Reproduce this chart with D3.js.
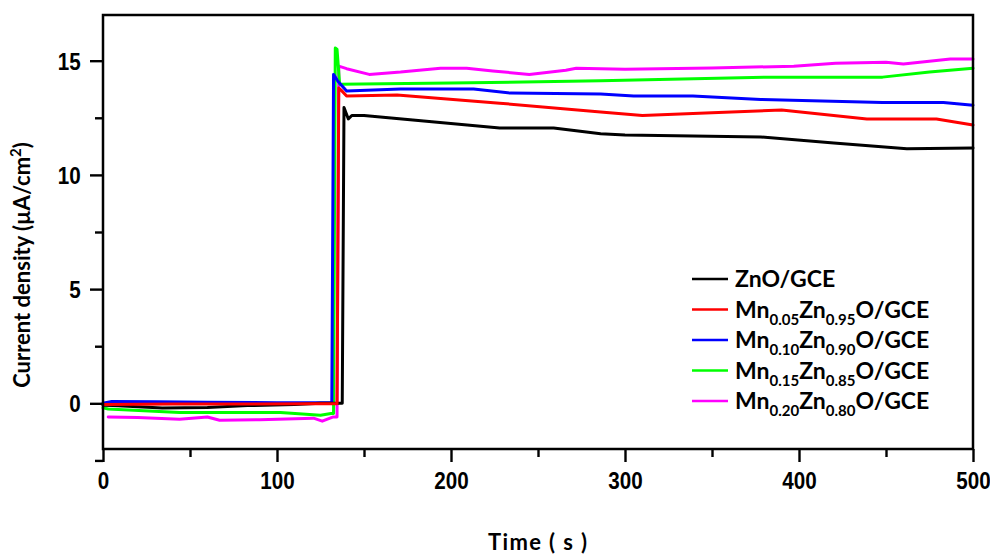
<!DOCTYPE html>
<html>
<head>
<meta charset="utf-8">
<script src="https://cdn.jsdelivr.net/npm/d3@7"></script>
<style>
  html, body { margin: 0; padding: 0; background: #fff; }
  svg { display: block; }
</style>
</head>
<body>
<svg id="chart" width="990" height="555"></svg>
<script>
// ---- data (time s, current density µA/cm²) ----
const xTicks = [0, 100, 200, 300, 400, 500];
const xMinorTicks = [50, 150, 250, 350, 450];
const yTicks = [0, 5, 10, 15];
const yMinorTicks = [-2.5, 2.5, 7.5, 12.5];

const seriesNames = ["ZnO/GCE", "Mn0.05Zn0.95O/GCE", "Mn0.10Zn0.90O/GCE", "Mn0.15Zn0.85O/GCE", "Mn0.20Zn0.80O/GCE"];
const seriesColors = ["#000000", "#ff0000", "#0000ff", "#00ff00", "#ff00ff"];

const znoData = [[0,-0.08],[6,-0.1],[20,-0.15],[34,-0.2],[60,-0.18],[83,-0.1],[110,-0.05],[125,0.0],[136,0.0],[137.5,0.0],[138.5,12.95],[141,12.45],[143,12.6],[150,12.6],[228,12.05],[259,12.05],[286,11.8],[300,11.75],[378,11.66],[420,11.4],[462,11.14],[500,11.18]];
const mn05Data = [[0,-0.05],[40,-0.03],[80,-0.03],[120,-0.02],[134.5,-0.02],[135.5,13.8],[137,13.7],[140,13.45],[169,13.5],[228,13.14],[286,12.75],[310,12.6],[350,12.72],[390,12.84],[439,12.45],[479,12.45],[500,12.18]];
const mn10Data = [[0,0.0],[5,0.08],[30,0.07],[60,0.05],[100,0.03],[125,0.02],[131.5,0.02],[132.5,14.4],[135,14.1],[140,13.67],[171,13.76],[213,13.76],[234,13.58],[286,13.54],[305,13.45],[339,13.45],[378,13.3],[448,13.17],[483,13.17],[500,13.05]];
const mn15Data = [[0,-0.2],[3,-0.25],[44,-0.4],[102,-0.4],[125,-0.52],[131,-0.45],[132.5,-0.45],[133.5,15.55],[134.5,15.5],[136,13.97],[200,14.02],[286,14.12],[381,14.28],[448,14.28],[475,14.5],[500,14.67]];
const mn20Data = [[3,-0.6],[20,-0.62],[44,-0.7],[60,-0.6],[67,-0.74],[90,-0.72],[121,-0.65],[126,-0.78],[132,-0.6],[134.5,-0.6],[135.5,14.76],[140,14.65],[153,14.4],[171,14.5],[194,14.67],[209,14.67],[224,14.55],[245,14.4],[266,14.58],[272,14.67],[300,14.63],[350,14.68],[397,14.76],[421,14.89],[450,14.93],[460,14.85],[487,15.07],[500,15.07]];

const legendMain = ["", "Mn", "Mn", "Mn", "Mn"];
const legendSub1 = ["", "0.05", "0.10", "0.15", "0.20"];
const legendSub2 = ["", "0.95", "0.90", "0.85", "0.80"];

const allData = [znoData, mn05Data, mn10Data, mn15Data, mn20Data];
const drawOrder = [4, 3, 2, 0, 1];

// ---- layout ----
const svg = d3.select("#chart");
const mLeft = 103, mRight = 973, mTop = 15, mBottom = 449;
const x = d3.scaleLinear().domain([0, 500]).range([mLeft, mRight]);
const y = d3.scaleLinear().domain([-2, 17]).range([mBottom, mTop]);

const tickFont = "'Liberation Sans', Arial, sans-serif";
const titleFont = "Lato, 'Open Sans', sans-serif";

// series
const line = d3.line().x(d => x(d[0])).y(d => y(d[1]));
const plot = svg.append("g");
drawOrder.forEach(i => {
  plot.append("path")
    .datum(allData[i])
    .attr("d", line)
    .attr("fill", "none")
    .attr("stroke", seriesColors[i])
    .attr("stroke-width", 3)
    .attr("stroke-linejoin", "round")
    .attr("stroke-linecap", "round");
});

// frame
svg.append("rect")
  .attr("x", mLeft).attr("y", mTop)
  .attr("width", mRight - mLeft).attr("height", mBottom - mTop)
  .attr("fill", "none").attr("stroke", "#000").attr("stroke-width", 2.5);

// x axis
const xAxis = svg.append("g").attr("transform", `translate(0,${mBottom})`)
  .call(d3.axisBottom(x).tickValues(xTicks).tickSize(13).tickPadding(10).tickFormat(d3.format("d")));
const xMinor = svg.append("g").attr("transform", `translate(0,${mBottom})`)
  .call(d3.axisBottom(x).tickValues(xMinorTicks).tickSize(8).tickFormat(""));
// y axis
const yAxis = svg.append("g").attr("transform", `translate(${mLeft},0)`)
  .call(d3.axisLeft(y).tickValues(yTicks).tickSize(13).tickPadding(13).tickFormat(d3.format("d")));
const yMinor = svg.append("g").attr("transform", `translate(${mLeft},0)`)
  .call(d3.axisLeft(y).tickValues(yMinorTicks).tickSize(8).tickFormat(""));

[xAxis, xMinor, yAxis, yMinor].forEach(g => {
  g.select(".domain").remove();
  g.selectAll(".tick line").attr("stroke", "#000").attr("stroke-width", 2.4);
  g.selectAll(".tick text")
    .attr("fill", "#000")
    .style("font-family", tickFont)
    .style("font-weight", "bold")
    .style("font-size", "24px")
    .attr("transform", "scale(0.86,1)");
});
xAxis.selectAll(".tick text").attr("dy", "0.71em");
yAxis.selectAll(".tick text").attr("dy", "0.35em");

// axis titles
svg.append("text")
  .attr("x", 537.5).attr("y", 550)
  .attr("text-anchor", "middle")
  .attr("textLength", 99).attr("lengthAdjust", "spacing")
  .style("font-family", titleFont).style("font-weight", "bold").style("font-size", "22px")
  .text("Time ( s )");

const yt = svg.append("text")
  .attr("transform", `translate(30,265) rotate(-90)`)
  .attr("text-anchor", "middle")
  .style("font-family", titleFont).style("font-weight", "bold").style("font-size", "22px");
yt.append("tspan").text("Current density (µA/cm");
yt.append("tspan").attr("dy", -9).style("font-size", "15px").text("2");
yt.append("tspan").attr("dy", 9).text(")");

// legend
const legend = svg.append("g");
const legX = 692, legY0 = 279, legDy = 30.5;
seriesNames.forEach((name, i) => {
  const yy = legY0 + i * legDy;
  legend.append("line")
    .attr("x1", legX).attr("x2", legX + 36)
    .attr("y1", yy).attr("y2", yy)
    .attr("stroke", seriesColors[i]).attr("stroke-width", 2.5);
  const t = legend.append("text")
    .attr("x", legX + 43).attr("y", yy + 8)
    .style("font-family", titleFont).style("font-weight", "bold").style("font-size", "23px")
    .attr("fill", "#000");
  if (i === 0) {
    t.text(name);
  } else {
    t.append("tspan").text(legendMain[i]);
    t.append("tspan").attr("dy", 7).style("font-size", "15px").text(legendSub1[i]);
    t.append("tspan").attr("dy", -7).text("Zn");
    t.append("tspan").attr("dy", 7).style("font-size", "15px").text(legendSub2[i]);
    t.append("tspan").attr("dy", -7).text("O/GCE");
  }
});
</script>
</body>
</html>
